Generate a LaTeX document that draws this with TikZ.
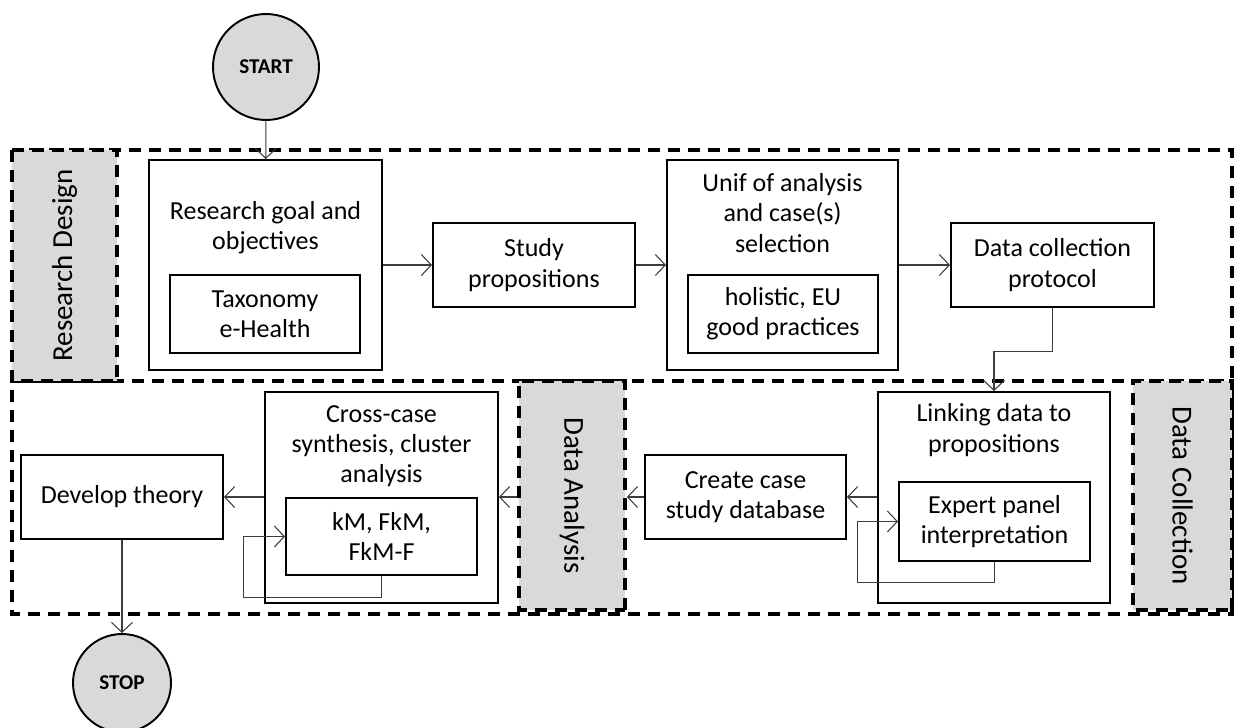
\documentclass[tikz,border=0pt]{standalone}
\usepackage{fontspec}
\setmainfont{Carlito}
\usepackage{tikz}
\usetikzlibrary{arrows.meta,positioning}
\definecolor{phasegray}{RGB}{217,217,217}
\definecolor{arrgray}{RGB}{60,60,60}

\begin{document}
\begin{tikzpicture}[
    x=0.02cm,y=-0.02cm,
    >={Straight Barb[length=2mm,width=4.2mm]},
    box/.style={rectangle,draw,line width=1.1pt,fill=white,inner sep=0pt,
                align=center,font=\fontsize{14.8}{17.2}\selectfont},
    txt/.style={align=center,font=\fontsize{14.8}{17.2}\selectfont},
    term/.style={circle,draw,line width=1.1pt,fill=phasegray,inner sep=0pt,
                 font=\bfseries\fontsize{12}{14}\selectfont},
    phase/.style={rectangle,draw,line width=2.1pt,dash pattern=on 0.24cm off 0.16cm,
                  fill=phasegray,inner sep=0pt,font=\fontsize{16.5}{19}\selectfont},
    region/.style={line width=2.1pt,dash pattern=on 0.24cm off 0.16cm},
    arr/.style={->,arrgray,line width=0.6pt}
  ]
    \useasboundingbox (0,0) rectangle (1237,727);

    % Phase regions
    \draw[region] (12,150) rectangle (1232,614);
    \draw[region] (12,381) -- (1232,381);
    \node[phase,rotate=90,minimum width=4.62cm,minimum height=2.1cm] (rd) at (64.5,265.5) {Research Design};
    \node[phase,rotate=-90,minimum width=4.58cm,minimum height=2.12cm] (da) at (572,495.5) {Data Analysis};
    \node[phase,rotate=-90,minimum width=4.58cm,minimum height=1.98cm] (dc) at (1182.5,495.5) {Data Collection};

    % Start / stop
    \node[term,minimum size=2.12cm] (start) at (266,67) {START};
    \node[term,minimum size=1.96cm] (stop) at (122,683) {STOP};

    % Row 1: research design
    \node[box,minimum width=4.66cm,minimum height=4.2cm] (rg) at (265.5,265) {};
    \node[txt] (rgt) at (265.5,228) {Research goal and\\objectives};
    \node[box,minimum width=3.8cm,minimum height=1.56cm] (tax) at (265,314) {Taxonomy\\e-Health};
    \node[box,minimum width=4.04cm,minimum height=1.68cm] (sp) at (534,265) {Study\\propositions};
    \node[box,minimum width=4.62cm,minimum height=4.2cm] (ua) at (782.5,265) {};
    \node[txt] (uat) at (782.5,213) {Unif of analysis\\and case(s)\\selection};
    \node[box,minimum width=3.8cm,minimum height=1.56cm] (hol) at (783,314) {holistic, EU\\good practices};
    \node[box,minimum width=4.06cm,minimum height=1.68cm] (dcp) at (1052.5,265) {Data collection\\protocol};

    % Row 2: collection and analysis
    \node[box,minimum width=4.64cm,minimum height=4.22cm] (lk) at (994,497.5) {};
    \node[txt] (lkt) at (994,430) {Linking data to\\propositions};
    \node[box,minimum width=3.82cm,minimum height=1.58cm] (ep) at (994.5,521.5) {Expert panel\\interpretation};
    \node[box,minimum width=4.02cm,minimum height=1.68cm] (ccd) at (745.5,497) {Create case\\study database};
    \node[box,minimum width=4.66cm,minimum height=4.22cm] (cs) at (381.5,497.5) {};
    \node[txt] (cst) at (381.5,446) {Cross-case\\synthesis, cluster\\analysis};
    \node[box,minimum width=3.82cm,minimum height=1.54cm] (km) at (381.5,536.5) {kM, FkM,\\FkM-F};
    \node[box,minimum width=4.04cm,minimum height=1.68cm] (dt) at (122,497) {Develop theory};

    % Arrows
    \draw[arr] (start) -- (rg);
    \draw[arr] (rg.east |- sp.west) -- (sp.west);
    \draw[arr] (sp.east) -- (sp.east -| ua.west);
    \draw[arr] (ua.east |- dcp.west) -- (dcp.west);
    \draw[arr] (dcp.south) -- ++(0,44) -| (lk.north);
    \draw[arr] (lk.west |- ccd.east) -- (ccd.east);
    \draw[arr] (ccd.west) -- (ccd.west -| da.north);
    \draw[arr] (ccd.west -| da.south) -- (ccd.west -| cs.east);
    \draw[arr] (cs.west |- dt.east) -- (dt.east);
    \draw[arr] (dt) -- (stop);
    \draw[arr] (ep.south) -- ++(0,21) -- ++(-137,0) |- (ep.west);
    \draw[arr] (km.south) -- ++(0,22) -- ++(-138,0) |- (km.west);
  \end{tikzpicture}
\end{document}
